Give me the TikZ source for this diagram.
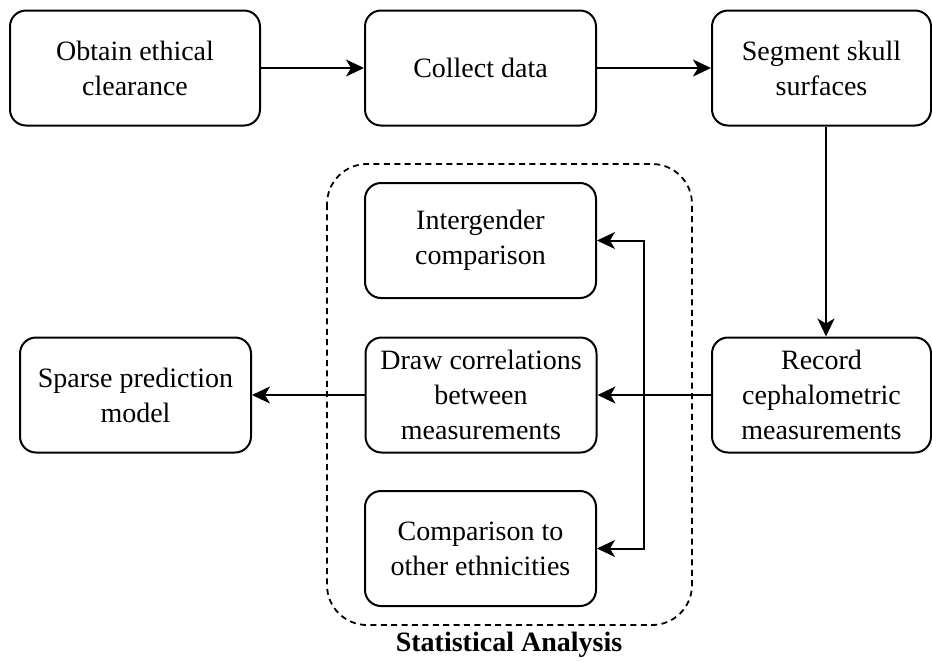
\documentclass[tikz,border=0pt]{standalone}
\usepackage{fontspec}
\setmainfont{Liberation Serif}
\usetikzlibrary{arrows.meta,calc}
\begin{document}
\begin{tikzpicture}[x=0.5pt,y=-0.5pt,
  stepbox/.style={draw,line width=1pt,rounded corners=8pt,align=center,
    font=\fontsize{14}{17.5}\selectfont,inner sep=0pt,
    minimum width=115.5pt,minimum height=57.5pt},
  flow/.style={line width=1pt,-{Stealth[length=9pt,width=8.5pt,inset=2.5pt]}},
  group/.style={draw,line width=0.9pt,dash pattern=on 3pt off 2.2pt,rounded corners=20pt}]
\useasboundingbox (0,0) rectangle (932,660);

% top row
\node[stepbox,minimum width=125pt] (obtain) at (135,68) {Obtain ethical\\clearance};
\node[stepbox] (collect) at (480.5,68) {Collect data};
\node[stepbox,minimum width=109.5pt] (segment) at (821.5,68) {Segment skull\\surfaces};

% statistical analysis group
\draw[group] (327,164) rectangle (692,625);
\node[font=\fontsize{14}{17.5}\selectfont\bfseries] (grouplabel) at (509,645) {Statistical Analysis};
\node[stepbox] (inter) at (480.5,240.5) {Intergender\\comparison};
\node[stepbox] (corr) at (481,395) {Draw correlations\\between\\measurements};
\node[stepbox] (ethnic) at (480.5,548.5) {Comparison to\\other ethnicities};

% side boxes
\node[stepbox,minimum width=109.5pt] (record) at (821.5,395) {Record\\cephalometric\\measurements};
\node[stepbox] (sparse) at (135.5,395) {Sparse prediction\\model};

% connectors
\coordinate (branch) at (644,395);
\coordinate (drop) at (826,68);
\draw[flow] (obtain) -- (collect);
\draw[flow] (collect) -- (segment);
\draw[flow] (segment.south -| drop) -- (record.north -| drop);
\draw[flow] (record) -- (corr);
\draw[flow] (corr) -- (sparse);
\draw[flow] (branch) |- (inter.east);
\draw[flow] (branch) |- (ethnic.east);
\end{tikzpicture}
\end{document}
